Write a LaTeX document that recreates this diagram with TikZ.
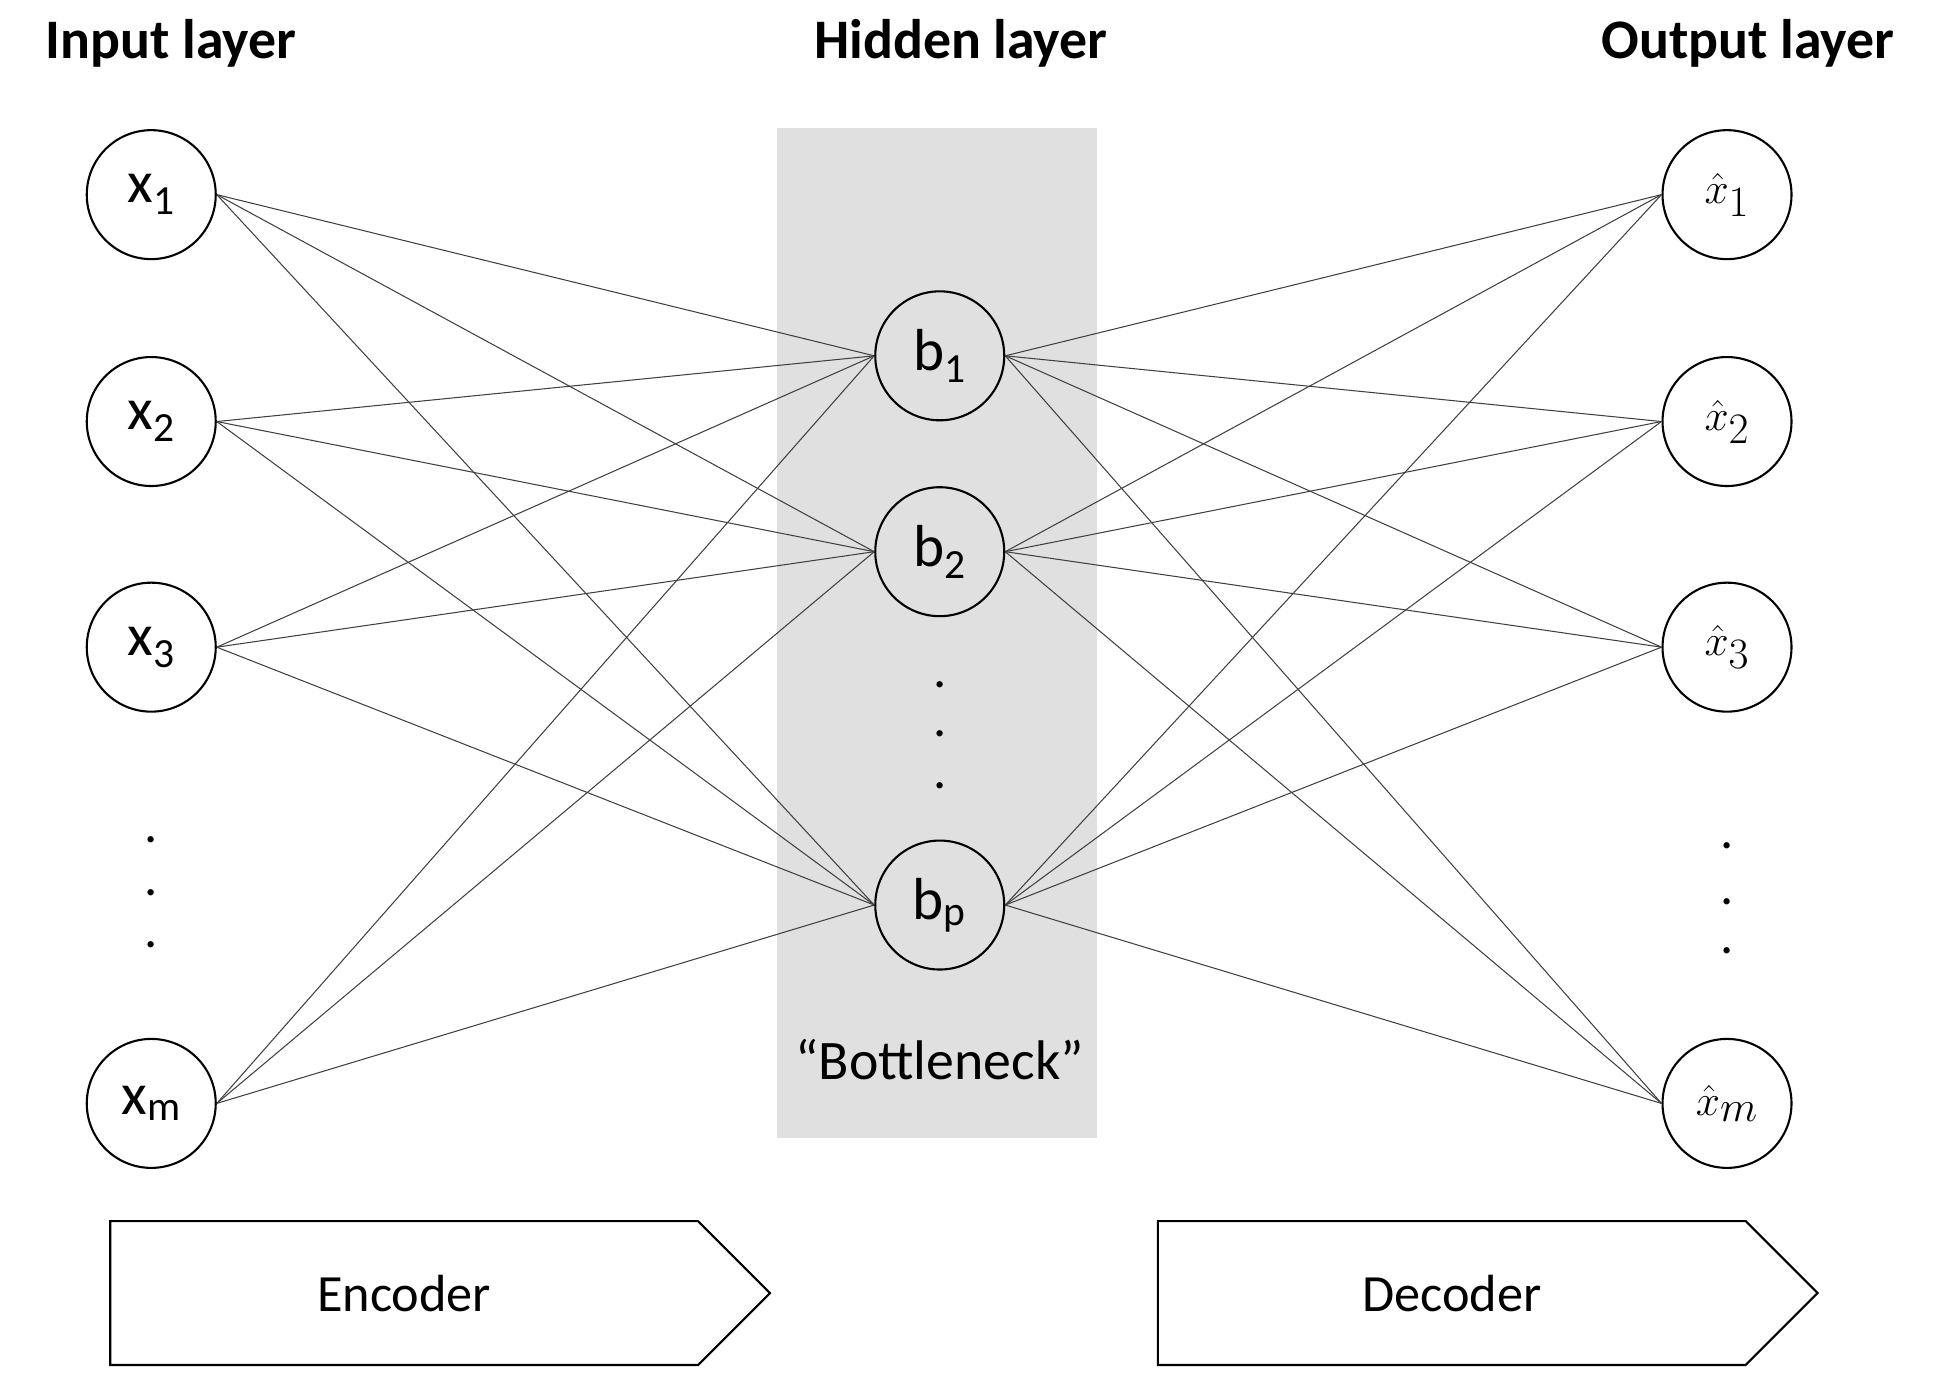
\documentclass[tikz,border=0pt]{standalone}
\usepackage{fontspec}
\setmainfont{Carlito}
\usetikzlibrary{shapes.arrows}
\begin{document}
\begin{tikzpicture}[x=0.025cm, y=-0.025cm,
    neuron/.style = {shape=circle, draw, line width=1.2pt, minimum size=2.6cm,
      inner sep=0pt, font=\fontsize{34}{40}\selectfont},
    layer/.style = {font=\fontsize{32}{38}\selectfont\bfseries},
    link/.style = {draw=black!75, line width=0.6pt},
    dot/.style = {font=\fontsize{30}{36}\selectfont},
    flow/.style = {shape=single arrow, draw, line width=1.2pt, minimum height=13.3cm,
      minimum width=2.9cm, single arrow head extend=0.0cm, single arrow head indent=0pt,
      inner sep=0pt, font=\fontsize{30}{36}\selectfont}]
    \useasboundingbox (0,0) rectangle (1564,1117);
    \fill[black!12] (627,103) rectangle (885,918);
    \node[layer] (tin) at (138,35) {Input layer};
    \node[layer] (thid) at (775,35) {Hidden layer};
    \node[layer] (tout) at (1410,35) {Output layer};
    % input layer
    \node[neuron] (x1) at (122,157) {x\textsubscript{1}};
    \node[neuron] (x2) at (122,340) {x\textsubscript{2}};
    \node[neuron] (x3) at (122,522) {x\textsubscript{3}};
    \node[neuron] (x4) at (122,890) {x\textsubscript{m}};
    % hidden layer
    \node[neuron] (b1) at (758,287) {b\textsubscript{1}};
    \node[neuron] (b2) at (758,445) {b\textsubscript{2}};
    \node[neuron] (b3) at (758,730) {b\textsubscript{p}};
    % output layer
    \node[neuron] (y1) at (1393,157) {$\hat{x}_1$};
    \node[neuron] (y2) at (1393,340) {$\hat{x}_2$};
    \node[neuron] (y3) at (1393,522) {$\hat{x}_3$};
    \node[neuron] (y4) at (1393,890) {$\hat{x}_m$};
    \foreach \y in {685,728,770} \node[dot] at (122,\y-8) {.};
    \foreach \y in {560,600,642} \node[dot] at (758,\y-8) {.};
    \foreach \y in {690,735,775} \node[dot] at (1393,\y-8) {.};
    \node[font=\fontsize{32}{38}\selectfont] (neck) at (758,855) {“Bottleneck”};
    \foreach \i in {1,...,4}
      \foreach \j in {1,...,3} {
        \draw[link] (x\i.east) -- (b\j.west);
        \draw[link] (b\j.east) -- (y\i.west);
      }
    \node[flow] (enc) at (326,1043) {Encoder};
    \node[flow] (dec) at (1171,1043) {Decoder};
\end{tikzpicture}
\end{document}
